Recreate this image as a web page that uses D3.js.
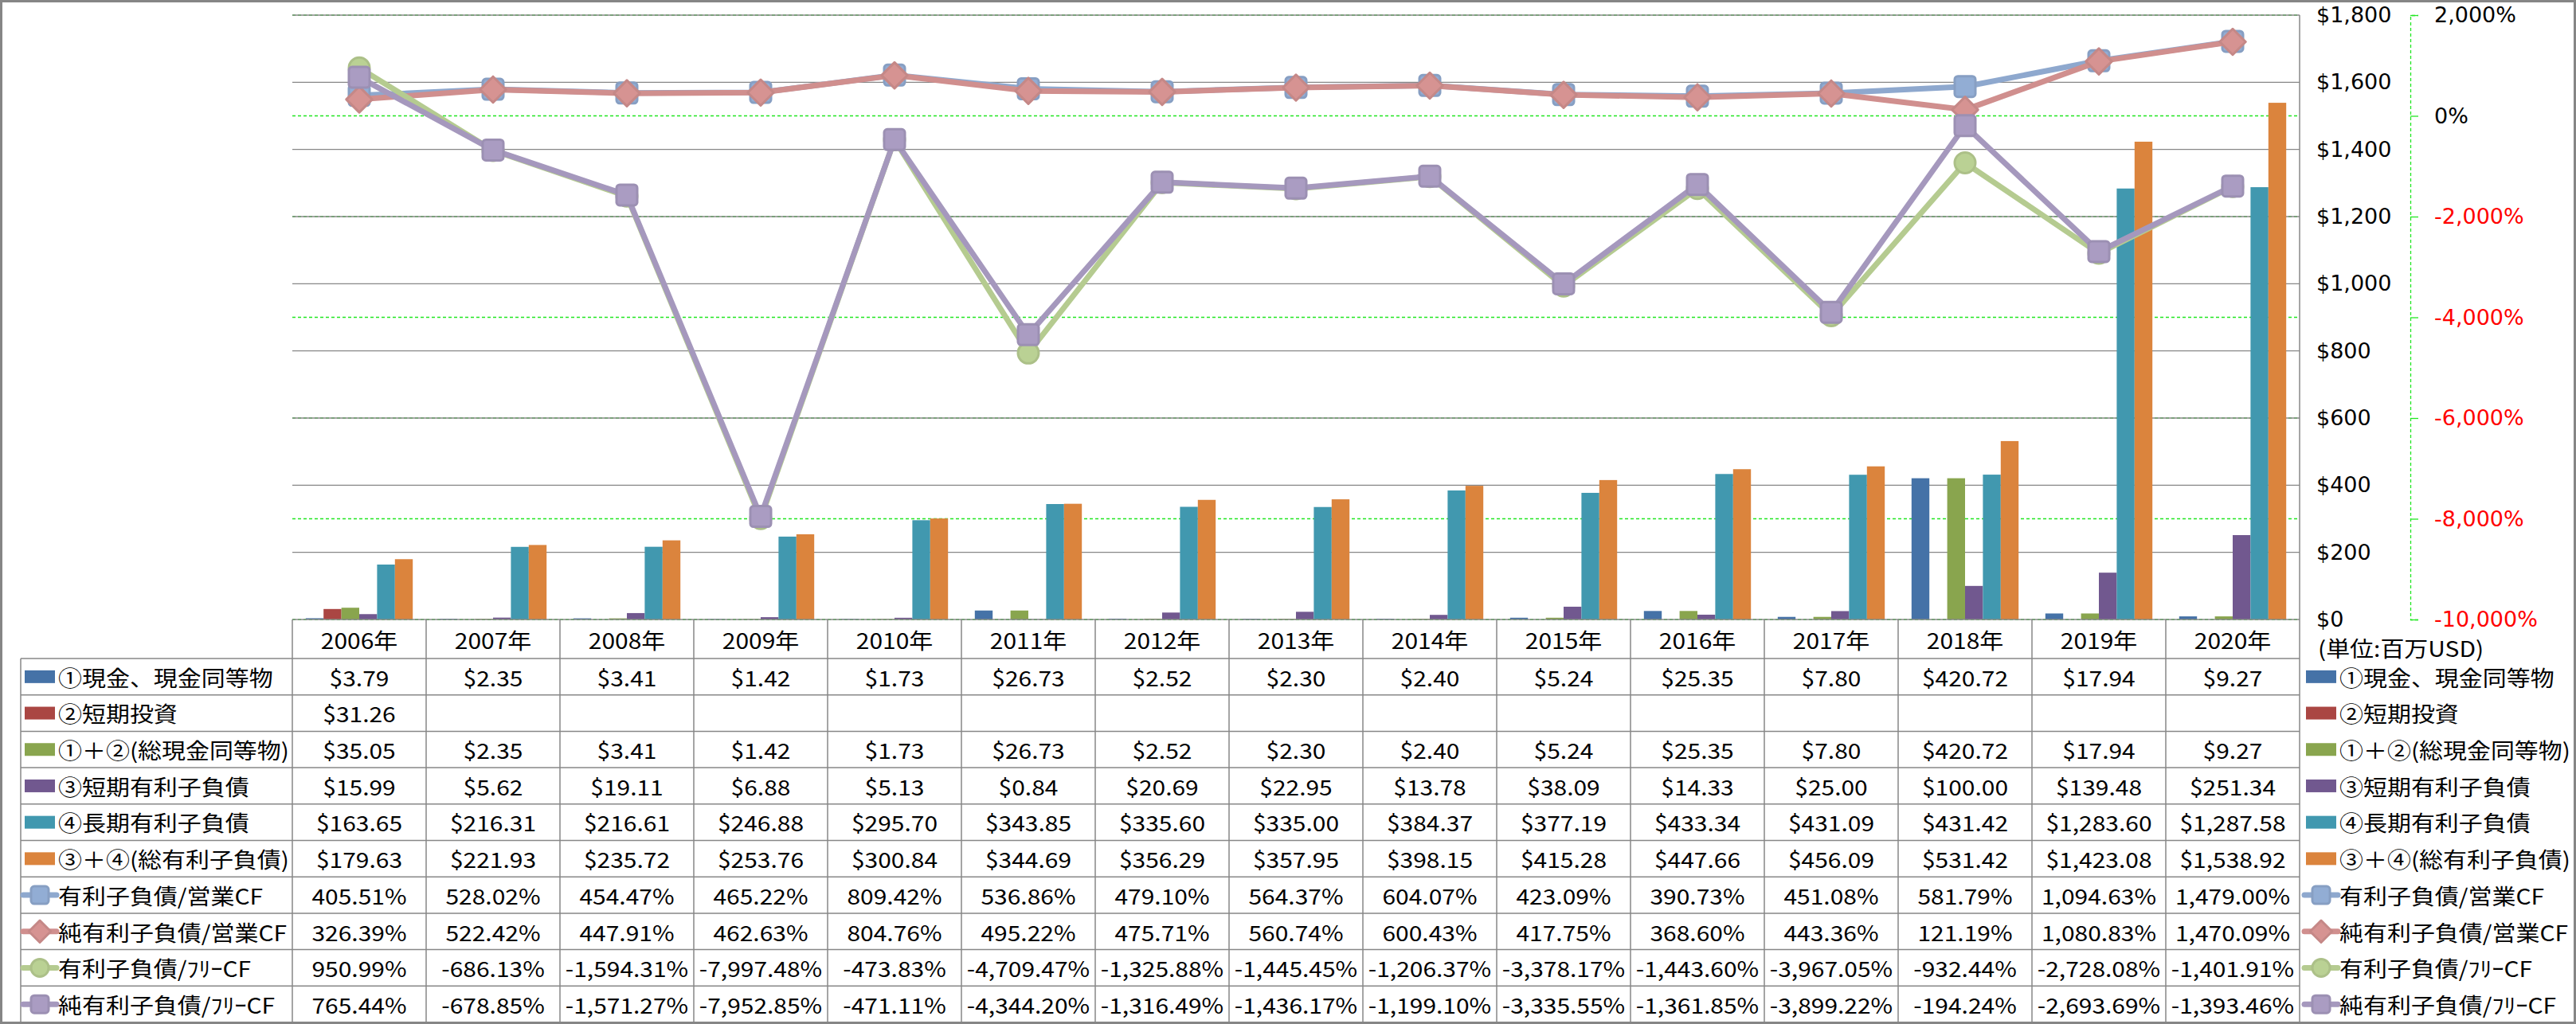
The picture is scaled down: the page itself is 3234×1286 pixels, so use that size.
<!DOCTYPE html>
<html><head><meta charset="utf-8">
<script src="https://cdn.jsdelivr.net/npm/d3@7"></script>
<style>body{margin:0;background:#fff}svg{display:block}</style>
</head><body>
<script>
// ---- data ----
const categories = ['2006年','2007年','2008年','2009年','2010年','2011年','2012年','2013年','2014年','2015年','2016年','2017年','2018年','2019年','2020年'];
const cash       = [3.79, 2.35, 3.41, 1.42, 1.73, 26.73, 2.52, 2.30, 2.40, 5.24, 25.35, 7.80, 420.72, 17.94, 9.27];
const shortInv   = [31.26, null, null, null, null, null, null, null, null, null, null, null, null, null, null];
const totalCash  = [35.05, 2.35, 3.41, 1.42, 1.73, 26.73, 2.52, 2.30, 2.40, 5.24, 25.35, 7.80, 420.72, 17.94, 9.27];
const shortDebt  = [15.99, 5.62, 19.11, 6.88, 5.13, 0.84, 20.69, 22.95, 13.78, 38.09, 14.33, 25.00, 100.00, 139.48, 251.34];
const longDebt   = [163.65, 216.31, 216.61, 246.88, 295.70, 343.85, 335.60, 335.00, 384.37, 377.19, 433.34, 431.09, 431.42, 1283.60, 1287.58];
const totalDebt  = [179.63, 221.93, 235.72, 253.76, 300.84, 344.69, 356.29, 357.95, 398.15, 415.28, 447.66, 456.09, 531.42, 1423.08, 1538.92];
const debtOpCF    = [405.51, 528.02, 454.47, 465.22, 809.42, 536.86, 479.10, 564.37, 604.07, 423.09, 390.73, 451.08, 581.79, 1094.63, 1479.00];
const netDebtOpCF = [326.39, 522.42, 447.91, 462.63, 804.76, 495.22, 475.71, 560.74, 600.43, 417.75, 368.60, 443.36, 121.19, 1080.83, 1470.09];
const debtFCF     = [950.99, -686.13, -1594.31, -7997.48, -473.83, -4709.47, -1325.88, -1445.45, -1206.37, -3378.17, -1443.60, -3967.05, -932.44, -2728.08, -1401.91];
const netDebtFCF  = [765.44, -678.85, -1571.27, -7952.85, -471.11, -4344.20, -1316.49, -1436.17, -1199.10, -3335.55, -1361.85, -3899.22, -194.24, -2693.69, -1393.46];
const leftTicks  = [0, 200, 400, 600, 800, 1000, 1200, 1400, 1600, 1800];
const rightTicks = [-10000, -8000, -6000, -4000, -2000, 0, 2000];
const unitLabel = '(単位:百万USD)';

const barSeries = [
  {name:'①現金、現金同等物', values:cash, color:'#4572A7'},
  {name:'②短期投資', values:shortInv, color:'#AA4643'},
  {name:'①＋②(総現金同等物)', values:totalCash, color:'#89A54E'},
  {name:'③短期有利子負債', values:shortDebt, color:'#71588F'},
  {name:'④長期有利子負債', values:longDebt, color:'#4198AF'},
  {name:'③＋④(総有利子負債)', values:totalDebt, color:'#DB843D'}
];
const lineSeries = [
  {name:'有利子負債/営業CF', values:debtOpCF, color:'#8EA8CE', marker:'square'},
  {name:'純有利子負債/営業CF', values:netDebtOpCF, color:'#D08F8E', marker:'diamond'},
  {name:'有利子負債/ﾌﾘｰCF', values:debtFCF, color:'#B5CB90', marker:'circle'},
  {name:'純有利子負債/ﾌﾘｰCF', values:netDebtFCF, color:'#A598BD', marker:'square'}
];

// ---- layout ----
const W = 3234, H = 1286;
const plot = {left:367, right:2887, top:19, bottom:778};
const tableTop = 778, headerBottom = 827, tableBottom = 1284, labelLeft = 26;
const rowH = (tableBottom - headerBottom) / 10;
const TFONT = '"Noto Sans CJK JP", "Noto Sans", sans-serif';
const AFONT = '"DejaVu Sans", Verdana, sans-serif';
const SX = 1.11;
const GRAY = '#878787';
const GREEN = '#22e622';

const loc = d3.formatLocale({decimal:'.', thousands:',', grouping:[3], currency:['$',''], minus:'-'});
const fmtMoney = loc.format('$,.2f');
const fmtPct = v => loc.format(',.2f')(v) + '%';

const svg = d3.select('body').append('svg').attr('width', W).attr('height', H);
svg.append('rect').attr('width', W).attr('height', H).attr('fill', '#fff');

const x = d3.scaleBand().domain(categories).range([plot.left, plot.right]);
const xi = d3.scaleBand().domain(d3.range(barSeries.length)).range([0, x.bandwidth()]).paddingOuter(0.75);
const yL = d3.scaleLinear().domain([0, 1800]).range([plot.bottom, plot.top]);
const yR = d3.scaleLinear().domain([-10000, 2000]).range([plot.bottom, plot.top]);
const cx = c => x(c) + x.bandwidth() / 2;

// gridlines: secondary (green dashed) first, primary (gray) over
svg.append('g').selectAll('line').data(rightTicks).join('line')
  .attr('x1', plot.left).attr('x2', plot.right)
  .attr('y1', d => yR(d)).attr('y2', d => yR(d))
  .attr('stroke', GREEN).attr('stroke-width', 1.3).attr('stroke-dasharray', '4,3');
svg.append('g').selectAll('line').data(leftTicks.filter(d => d > 0)).join('line')
  .attr('x1', plot.left).attr('x2', plot.right)
  .attr('y1', d => yL(d)).attr('y2', d => yL(d))
  .attr('stroke', GRAY).attr('stroke-width', 1.3);

// bars
const barG = svg.append('g');
barSeries.forEach((s, si) => {
  barG.append('g').selectAll('rect')
    .data(categories.map((c, i) => ({c, v: s.values[i]})).filter(d => d.v != null))
    .join('rect')
    .attr('x', d => x(d.c) + xi(si)).attr('width', xi.bandwidth())
    .attr('y', d => yL(d.v)).attr('height', d => yL(0) - yL(d.v))
    .attr('fill', s.color);
});

// marker drawing
function drawMarker(g, type, color, px, py, size) {
  const h = size / 2;
  const dark = d3.color(color).darker(0.15);
  const fill = d3.color(color).brighter(0.08);
  if (type === 'square') {
    g.append('rect').attr('x', px - h).attr('y', py - h).attr('width', size).attr('height', size)
      .attr('rx', 4).attr('fill', fill).attr('stroke', dark).attr('stroke-width', 3);
  } else if (type === 'diamond') {
    const r = h * 1.25;
    g.append('path').attr('d', `M${px},${py - r}L${px + r},${py}L${px},${py + r}L${px - r},${py}Z`)
      .attr('fill', fill).attr('stroke', dark).attr('stroke-width', 3).attr('stroke-linejoin', 'round');
  } else {
    g.append('circle').attr('cx', px).attr('cy', py).attr('r', h)
      .attr('fill', fill).attr('stroke', dark).attr('stroke-width', 3);
  }
}

// lines
const lineGen = d3.line().x(d => cx(d.c)).y(d => yR(d.v));
lineSeries.forEach(s => {
  const g = svg.append('g');
  const pts = categories.map((c, i) => ({c, v: s.values[i]}));
  g.append('path').datum(pts).attr('d', lineGen).attr('fill', 'none')
    .attr('stroke', s.color).attr('stroke-width', 7).attr('stroke-linejoin', 'round');
  pts.forEach(p => drawMarker(g, s.marker, s.color, cx(p.c), yR(p.v), 26));
});

// plot right border
svg.append('line').attr('x1', plot.right).attr('x2', plot.right).attr('y1', plot.top).attr('y2', tableBottom)
  .attr('stroke', GRAY).attr('stroke-width', 1.5);

// primary axis labels
const axL = svg.append('g').attr('transform', `translate(${plot.right},0)`)
  .call(d3.axisRight(yL).tickValues(leftTicks).tickSize(0).tickPadding(21).tickFormat(loc.format('$,')));
axL.select('.domain').remove();
axL.selectAll('text').attr('font-family', AFONT).attr('font-size', 27).attr('fill', '#000');

// secondary axis
const axR = svg.append('g').attr('transform', 'translate(3026,0)')
  .call(d3.axisRight(yR).tickValues(rightTicks).tickSize(10).tickPadding(20).tickFormat(d => loc.format(',')(d) + '%'));
axR.select('.domain').attr('stroke', GREEN).attr('stroke-dasharray', '4,3').attr('stroke-width', 1.3);
axR.selectAll('.tick line').attr('stroke', GREEN).attr('stroke-width', 1.3);
axR.selectAll('text').attr('font-family', AFONT).attr('font-size', 27)
  .attr('fill', d => d < 0 ? '#FF0000' : '#000');

// ---- data table ----
const tg = svg.append('g');
function stext(g, px, py, str, anchor) {
  return g.append('text').attr('transform', `translate(${px},${py}) scale(${SX},1)`)
    .attr('text-anchor', anchor).attr('dominant-baseline', 'central')
    .attr('font-family', TFONT).attr('font-size', 27).attr('fill', '#000').text(str);
}
// horizontal lines
d3.range(11).forEach(i => {
  const yy = headerBottom + i * rowH;
  tg.append('line').attr('x1', labelLeft).attr('x2', plot.right).attr('y1', yy).attr('y2', yy)
    .attr('stroke', GRAY).attr('stroke-width', 1.5);
});
tg.append('line').attr('x1', plot.left).attr('x2', plot.right).attr('y1', tableTop).attr('y2', tableTop)
  .attr('stroke', GRAY).attr('stroke-width', 1.5);
// vertical lines
categories.forEach(c => {
  tg.append('line').attr('x1', x(c)).attr('x2', x(c)).attr('y1', tableTop).attr('y2', tableBottom)
    .attr('stroke', GRAY).attr('stroke-width', 1.5);
});
tg.append('line').attr('x1', labelLeft).attr('x2', labelLeft).attr('y1', headerBottom).attr('y2', tableBottom)
  .attr('stroke', GRAY).attr('stroke-width', 1.5);

// header
categories.forEach(c => stext(tg, cx(c), (tableTop + headerBottom) / 2 + 1, c, 'middle'));

const rows = barSeries.map(s => ({...s, kind:'bar', fmt: fmtMoney}))
  .concat(lineSeries.map(s => ({...s, kind:'line', fmt: fmtPct})));

function drawKey(g, r, kx, ky) {
  if (r.kind === 'bar') {
    g.append('rect').attr('x', kx).attr('y', ky - 8).attr('width', 38).attr('height', 16).attr('fill', r.color);
  } else {
    g.append('line').attr('x1', kx - 2).attr('x2', kx + 40).attr('y1', ky).attr('y2', ky)
      .attr('stroke', r.color).attr('stroke-width', 7).attr('stroke-linecap', 'round');
    drawMarker(g, r.marker, r.color, kx + 19, ky, 22);
  }
}

rows.forEach((r, ri) => {
  const yy = headerBottom + rowH * (ri + 0.5);
  drawKey(tg, r, 31, yy);
  stext(tg, 73, yy, r.name, 'start');
  categories.forEach((c, i) => {
    const v = r.values[i];
    if (v != null) stext(tg, cx(c), yy, r.fmt(v), 'middle');
  });
  // right legend
  drawKey(tg, r, 2895, yy);
  stext(tg, 2937, yy, r.name, 'start');
});

stext(svg, 2910, 813, unitLabel, 'start');

// outer frame
svg.append('rect').attr('x', 1.5).attr('y', 1.5).attr('width', W - 3).attr('height', H - 3)
  .attr('fill', 'none').attr('stroke', '#868686').attr('stroke-width', 3);
</script>
</body></html>
